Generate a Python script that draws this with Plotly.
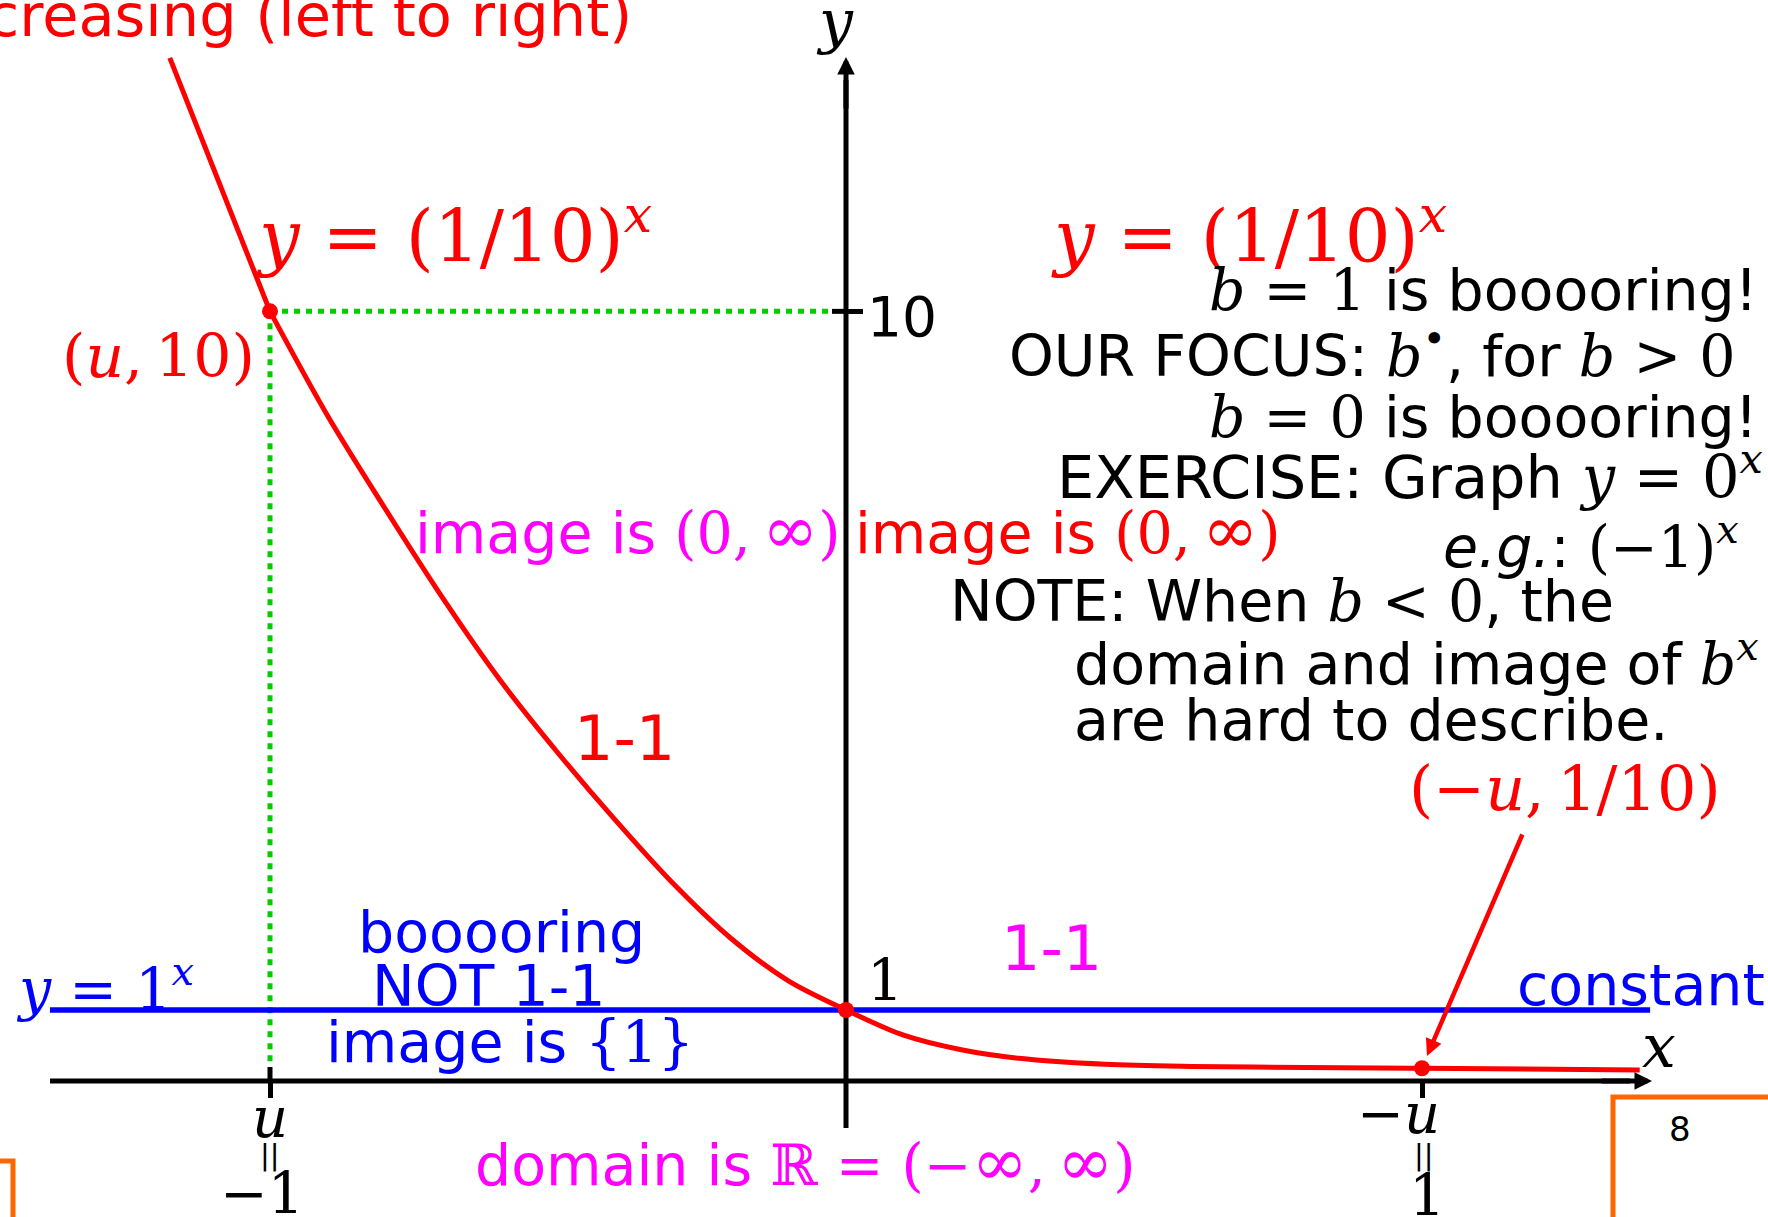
import plotly.graph_objects as go

W, H = 1768, 1217
# pixel frame of the drawn (schematic) coordinate system
ORIGIN_PX, ORIGIN_PY = 846, 1081
UNIT_X, UNIT_Y = 576, 71


def dx(px):
    return (px - ORIGIN_PX) / UNIT_X


def dy(py):
    return (ORIGIN_PY - py) / UNIT_Y


# ---------------- data (drawn units) ----------------
# straight piece above the point (u, 10)
upper_x = [-1.174, -1.0]
upper_y = [14.41, 10.84]
# smooth piece from (u, 10) to the right
curve_x = [-1.0, -0.9, -0.8, -0.7, -0.6, -0.5, -0.4, -0.3, -0.2, -0.1, 0.0,
           0.1, 0.2, 0.3, 0.45, 0.6, 0.8, 1.0, 1.378]
curve_y = [10.84, 9.37, 8.06, 6.80, 5.64, 4.62, 3.67, 2.78, 2.01, 1.41, 1.0,
           0.645, 0.44, 0.32, 0.235, 0.205, 0.19, 0.18, 0.155]
point_x = [-1, 0, 1]
point_y = [10.84, 1.0, 0.18]
const_x = [-1.382, 1.396]
const_y = [1.0, 1.0]
guide_h_x = [-1, -0.024]
guide_h_y = [10.84, 10.84]
guide_v_x = [-1, -1]
guide_v_y = [10.84, 0.225]
x_tick_vals = [-1, 1]
y_tick_vals = [10.84]
y_tick_text = ["10"]

RED, BLUE, MAG, GREEN, ORANGE = "#FF0000", "#0000FF", "#FF00FF", "#00CC00", "#FF6600"
SANS, SERIF = "DejaVu Sans", "DejaVu Serif"


def M(s):
    return f"<span style='font-family:{SERIF}'>{s}</span>"


INF = "<span style='font-size:118%'>∞</span>"

fig = go.Figure()
fig.add_trace(go.Scatter(x=guide_h_x, y=guide_h_y, mode="lines",
                         line=dict(color=GREEN, width=5, dash="6px,6px")))
fig.add_trace(go.Scatter(x=guide_v_x, y=guide_v_y, mode="lines",
                         line=dict(color=GREEN, width=5, dash="6px,6px")))
fig.add_trace(go.Scatter(x=const_x, y=const_y, mode="lines",
                         line=dict(color=BLUE, width=5.5)))
fig.add_trace(go.Scatter(x=upper_x, y=upper_y, mode="lines",
                         line=dict(color=RED, width=5)))
fig.add_trace(go.Scatter(x=curve_x, y=curve_y, mode="lines",
                         line=dict(color=RED, width=5, shape="spline", smoothing=0.9)))
fig.add_trace(go.Scatter(x=point_x, y=point_y, mode="markers",
                         marker=dict(color=RED, size=16)))

annotations = []


def ann(text, xpx, ypx, color, size, family=SANS, xanchor="left", yanchor="middle", **kw):
    annotations.append(dict(text=text, x=dx(xpx), y=dy(ypx), xref="x", yref="y",
                            showarrow=False, xanchor=xanchor, yanchor=yanchor,
                            font=dict(color=color, size=size, family=family), **kw))


def base(b, fs):
    return b - 0.346 * fs


# red texts
ann("decreasing (left to right)", 634, base(36, 59), RED, 59, xanchor="right")
ann("<i>y</i> = (1/10)<sup><i>x</i></sup>", 254, base(257, 72), RED, 72, SERIF)
ann("<i>y</i> = (1/10)<sup><i>x</i></sup>", 1049, base(257, 72), RED, 72, SERIF)
ann("(<i>u</i>,&#8201;10)", 60, base(377, 60), RED, 60, SERIF)
ann("image is " + M("(0,&#8201;" + INF + ")"), 853, base(550, 57), RED, 57)
ann("1-1", 572, base(760, 62), RED, 62)
ann("(−<i>u</i>,&#8201;1/10)", 1407, base(810, 62), RED, 62, SERIF)

# magenta texts
ann("image is " + M("(0,&#8201;" + INF + ")"), 413, base(550, 57), MAG, 57)
ann("1-1", 999, base(970, 62), MAG, 62)
ann("domain is " + M("ℝ = (−" + INF + ",&#8201;" + INF + ")"), 473, base(1182, 57), MAG, 57)

# blue texts
ann("<i>y</i> = 1<sup><i>x</i></sup>", 14, base(1005, 57), BLUE, 57, SERIF)
ann("booooring", 356, base(952, 57), BLUE, 57)
ann("NOT 1-1", 370, base(1006, 57), BLUE, 57)
ann("image is " + M("{1}"), 324, base(1062, 57), BLUE, 57)
ann("constant", 1515, base(1005, 57), BLUE, 57)

# black text block: (text, anchor, x edge, baseline, size)
block = [
    (M("<i>b</i> = 1") + " is booooring!", "right", 1760, 310, 57),
    ("OUR FOCUS: " + M("<i>b</i><sup>•</sup>") + ", for " + M("<i>b</i> &gt; 0"), "right", 1738, 372, 57),
    (M("<i>b</i> = 0") + " is booooring!", "right", 1760, 437, 57),
    ("EXERCISE: Graph " + M("<i>y</i> = 0<sup><i>x</i></sup>"), "left", 1055, 494, 59),
    ("<i>e.g.</i>: " + M("(−1)<sup><i>x</i></sup>"), "right", 1741, 563, 57),
    ("NOTE: When " + M("<i>b</i> &lt; 0") + ", the", "left", 948, 621, 57),
    ("domain and image of " + M("<i>b</i><sup><i>x</i></sup>"), "left", 1072, 680, 57),
    ("are hard to describe.", "left", 1072, 740, 57),
]
for t, anc, xp, bl, fs in block:
    ann(t, xp, base(bl, fs), "black", fs, xanchor=anc)

# axis labels and tick annotations
ann(y_tick_text[0], 865, base(336, 55), "black", 55, SANS)
ann("1", 865, base(1000, 57), "black", 57, SERIF)
ann("<i>x</i>", 1659, base(1067, 60), "black", 60, SERIF, xanchor="center")
ann("<i>y</i>", 835, base(42, 60), "black", 60, SERIF, xanchor="center")
ann("<i>u</i>", 269.5, base(1137, 56), "black", 56, SERIF, xanchor="center")
ann("−<i>u</i>", 1398, base(1133, 56), "black", 56, SERIF, xanchor="center")
ann("||", 270, 1155, "black", 29, SANS, xanchor="center")
ann("||", 1424, 1155, "black", 29, SANS, xanchor="center")
ann("−1", 262, base(1213, 57), "black", 57, SERIF, xanchor="center")
ann("1", 1427, base(1215, 57), "black", 57, SERIF, xanchor="center")
ann("8", 1680, 1129, "black", 34, SANS, xanchor="center")

# arrowheads of axes and the pointer arrow
annotations.append(dict(text="", x=dx(1652), y=0, ax=dx(1600), ay=0, xref="x", yref="y",
                        axref="x", ayref="y", showarrow=True, arrowhead=2, arrowsize=0.7,
                        arrowwidth=5, arrowcolor="black"))
annotations.append(dict(text="", x=0, y=dy(57), ax=0, ay=dy(110), xref="x", yref="y",
                        axref="x", ayref="y", showarrow=True, arrowhead=2, arrowsize=0.7,
                        arrowwidth=5, arrowcolor="black"))
annotations.append(dict(text="", x=dx(1427), y=dy(1056), ax=dx(1523), ay=dy(833), xref="x",
                        yref="y", axref="x", ayref="y", showarrow=True, arrowhead=2,
                        arrowsize=0.75, arrowwidth=4.5, arrowcolor=RED))

shapes = [
    # axis lines
    dict(type="line", xref="x", yref="y", x0=dx(50), y0=0, x1=dx(1630), y1=0,
         line=dict(color="black", width=5), layer="below"),
    dict(type="line", xref="x", yref="y", x0=0, y0=dy(1128), x1=0, y1=dy(80),
         line=dict(color="black", width=5), layer="below"),
    # upper half of the crossing tick at x = -1 and left half of the tick at 10
    dict(type="line", xref="x", yref="y", x0=-1, y0=0, x1=-1, y1=dy(1067),
         line=dict(color="black", width=5)),
    dict(type="line", xref="x", yref="y", x0=dx(832), y0=10.84, x1=0, y1=10.84,
         line=dict(color="black", width=5)),
    # orange slide frame pieces
    dict(type="path", xref="paper", yref="paper",
         path=f"M {1613/W},0 L {1613/W},{1-1097/H} L 1,{1-1097/H}",
         line=dict(color=ORANGE, width=5)),
    dict(type="path", xref="paper", yref="paper",
         path=f"M 0,{1-1161/H} L {13/W},{1-1161/H} L {13/W},0",
         line=dict(color=ORANGE, width=5)),
]

fig.update_layout(
    width=W, height=H, autosize=False,
    margin=dict(l=0, r=0, t=0, b=0, pad=0),
    paper_bgcolor="white", plot_bgcolor="white",
    showlegend=False,
    annotations=annotations,
    shapes=shapes,
    xaxis=dict(range=[dx(0), dx(W)], domain=[0, 1], anchor="free", position=1 - ORIGIN_PY / H,
               showline=False, showgrid=False, zeroline=False,
               tickmode="array", tickvals=x_tick_vals, showticklabels=False,
               ticks="outside", ticklen=16, tickwidth=5, tickcolor="black"),
    yaxis=dict(range=[dy(H), dy(0)], domain=[0, 1], anchor="free", position=ORIGIN_PX / W,
               side="right", showline=False, showgrid=False, zeroline=False,
               tickmode="array", tickvals=y_tick_vals, showticklabels=False,
               ticks="outside", ticklen=16, tickwidth=5, tickcolor="black"),
)

fig.write_html("out.html", config={"displayModeBar": False},
               post_script="document.body.style.margin='0';document.body.style.overflow='hidden';")
